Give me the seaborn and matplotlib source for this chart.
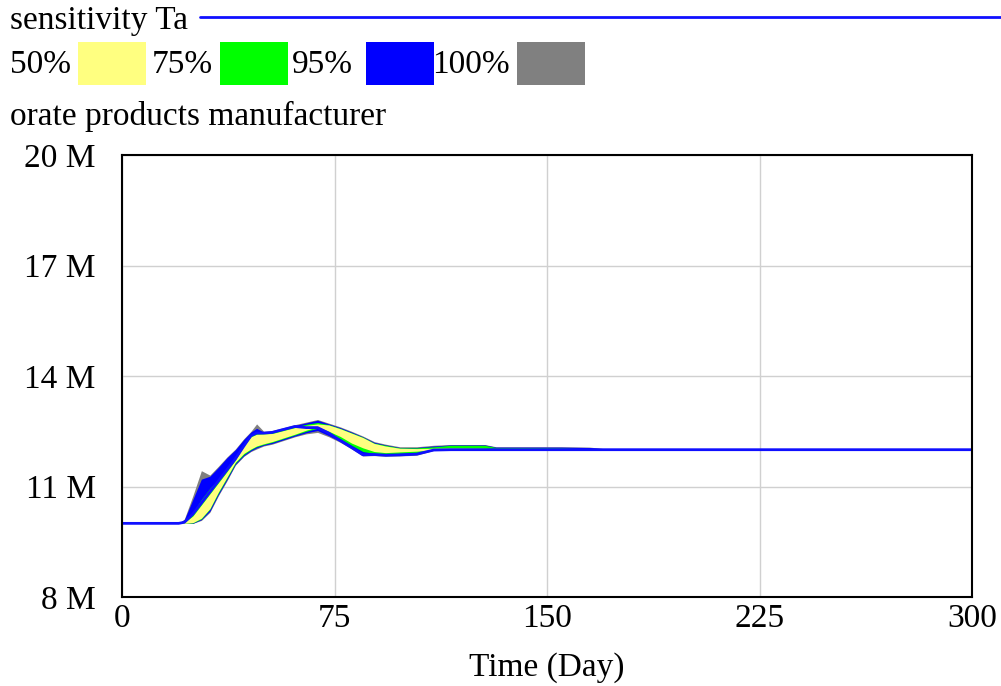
import numpy as np
import pandas as pd
import matplotlib
matplotlib.use("Agg")
import matplotlib.pyplot as plt
from matplotlib.patches import Rectangle
from matplotlib.lines import Line2D
import seaborn as sns

# ---- data (millions) ----
time = [0, 20, 22, 25, 28, 31, 34, 37, 40, 43, 45.5, 47.5, 50, 53, 57, 61, 65, 69,
        73, 77, 81, 85, 89, 93, 98, 104, 110, 116, 128, 132, 140, 155, 165, 169, 172, 300]

gray_hi = [10, 10, 10.12, 10.75, 11.43, 11.31, 11.55, 11.8, 12.02, 12.3, 12.5, 12.70,
           12.5, 12.52, 12.6, 12.68, 12.75, 12.82, 12.72, 12.62, 12.5, 12.37, 12.22,
           12.15, 12.08, 12.08, 12.12, 12.14, 12.14, 12.08, 12.08, 12.08, 12.07, 12.04,
           12.0, 12.0]
blue_hi = [10, 10, 10.1, 10.65, 11.2, 11.28, 11.52, 11.78, 12.0, 12.28, 12.48, 12.58,
           12.48, 12.5, 12.58, 12.66, 12.73, 12.8, 12.7, 12.6, 12.48, 12.35, 12.2,
           12.13, 12.06, 12.06, 12.1, 12.13, 12.13, 12.07, 12.07, 12.07, 12.06, 12.03,
           12.0, 12.0]
green_hi = [10, 10, 10.03, 10.3, 10.65, 10.95, 11.2, 11.5, 11.8, 12.15, 12.4, 12.45,
            12.45, 12.46, 12.54, 12.62, 12.69, 12.74, 12.68, 12.58, 12.46, 12.34, 12.18,
            12.12, 12.05, 12.05, 12.08, 12.12, 12.12, 12.06, 12.06, 12.05, 12.02, 12.0,
            12.0, 12.0]
yellow_hi = [10, 10, 10.02, 10.2, 10.5, 10.8, 11.1, 11.4, 11.72, 12.1, 12.35, 12.42,
             12.43, 12.44, 12.52, 12.6, 12.66, 12.7, 12.67, 12.57, 12.45, 12.33, 12.17,
             12.1, 12.04, 12.03, 12.04, 12.05, 12.04, 12.02, 12.02, 12.01, 12.0, 12.0,
             12.0, 12.0]
yellow_lo = [10, 10, 10.0, 10.02, 10.14, 10.4, 10.85, 11.25, 11.66, 11.9, 12.02, 12.1,
             12.16, 12.22, 12.32, 12.42, 12.53, 12.62, 12.5, 12.36, 12.18, 12.05, 11.95,
             11.92, 11.94, 11.96, 12.0, 12.0, 12.0, 12.0, 12.0, 12.0, 12.0, 12.0,
             12.0, 12.0]
green_lo = [10, 10, 10.0, 10.01, 10.12, 10.38, 10.82, 11.22, 11.63, 11.87, 12.0, 12.08,
            12.14, 12.2, 12.3, 12.4, 12.5, 12.58, 12.45, 12.3, 12.12, 11.95, 11.9,
            11.88, 11.9, 11.92, 12.0, 12.0, 12.0, 12.0, 12.0, 12.0, 12.0, 12.0,
            12.0, 12.0]
blue_lo = [10, 10, 10.0, 10.0, 10.1, 10.33, 10.78, 11.18, 11.6, 11.84, 11.97, 12.05,
           12.12, 12.17, 12.27, 12.37, 12.46, 12.52, 12.38, 12.22, 12.04, 11.85, 11.86,
           11.84, 11.85, 11.87, 11.99, 12.0, 12.0, 12.0, 12.0, 12.0, 12.0, 12.0,
           12.0, 12.0]
gray_lo = [10, 10, 10.0, 10.0, 10.08, 10.3, 10.75, 11.15, 11.58, 11.82, 11.95, 12.02,
           12.1, 12.15, 12.25, 12.35, 12.43, 12.47, 12.35, 12.2, 12.02, 11.83, 11.84,
           11.82, 11.83, 11.85, 11.98, 12.0, 12.0, 12.0, 12.0, 12.0, 12.0, 12.0,
           12.0, 12.0]
base = [10, 10, 10.03, 10.25, 10.55, 10.85, 11.15, 11.45, 11.75, 12.1, 12.38, 12.45,
        12.45, 12.47, 12.55, 12.63, 12.6, 12.6, 12.45, 12.25, 12.06, 11.86, 11.87,
        11.85, 11.86, 11.88, 11.99, 12.0, 12.0, 12.0, 12.0, 12.0, 12.0, 12.0,
        12.0, 12.0]

band_labels = ["50%", "75%", "95%", "100%"]
band_colors = ["#FFFF80", "#00FF00", "#0000FF", "#808080"]

df = pd.DataFrame({"Time": time, "base": base})

sns.set_style("white")
plt.rcParams["font.family"] = ["Liberation Serif", "DejaVu Serif"]
plt.rcParams["text.color"] = "black"
plt.rcParams["xtick.color"] = "black"
plt.rcParams["ytick.color"] = "black"
plt.rcParams["axes.labelcolor"] = "black"

fig = plt.figure(figsize=(10.01, 6.86), dpi=100)
ax = fig.add_axes([0.1219, 0.1297, 0.8492, 0.6443])

# bands drawn widest first
ax.fill_between(time, gray_lo, gray_hi, color=band_colors[3], lw=0)
ax.fill_between(time, blue_lo, blue_hi, color=band_colors[2], lw=0)
ax.fill_between(time, green_lo, green_hi, color=band_colors[1], lw=0)
ax.fill_between(time, yellow_lo, yellow_hi, color=band_colors[0], lw=0)
sns.lineplot(data=df, x="Time", y="base", ax=ax, color="#1010FF", lw=2)

ax.set_xlim(0, 300)
ax.set_ylim(8, 20)
ax.set_xticks([0, 75, 150, 225, 300])
ax.set_yticks([8, 11, 14, 17, 20])
ax.set_yticklabels(["8 M", "11 M", "14 M", "17 M", "20 M"])
ax.grid(True, color="#d0d0d0", lw=1)
ax.tick_params(axis="both", length=0, labelsize=24)
ax.tick_params(axis="x", pad=5)
ax.tick_params(axis="y", pad=19)
for s in ax.spines.values():
    s.set_color("black")
    s.set_linewidth(1.5)
ax.set_xlabel("Time (Day)", fontsize=24, labelpad=13)
ax.set_ylabel("")

# header / legend
fig.text(10 / 1001, 1 - 21 / 686, "sensitivity Ta", fontsize=24, va="center", ha="left")
fig.add_artist(Line2D([200 / 1001, 1.0], [1 - 17 / 686] * 2, color="#1010FF", lw=2))
lx = [10, 152, 292, 432]
for i in range(4):
    fig.text(lx[i] / 1001, 1 - 65 / 686, band_labels[i], fontsize=24, va="center", ha="left")
box_x = [78, 220, 366, 517]
for i in range(4):
    fig.add_artist(Rectangle((box_x[i] / 1001, 1 - 85 / 686), 68 / 1001, 43 / 686,
                             color=band_colors[i], lw=0, transform=fig.transFigure))
fig.text(10 / 1001, 1 - 116 / 686, "orate products manufacturer", fontsize=24,
         va="center", ha="left")

fig.savefig("out.png", dpi=100)
